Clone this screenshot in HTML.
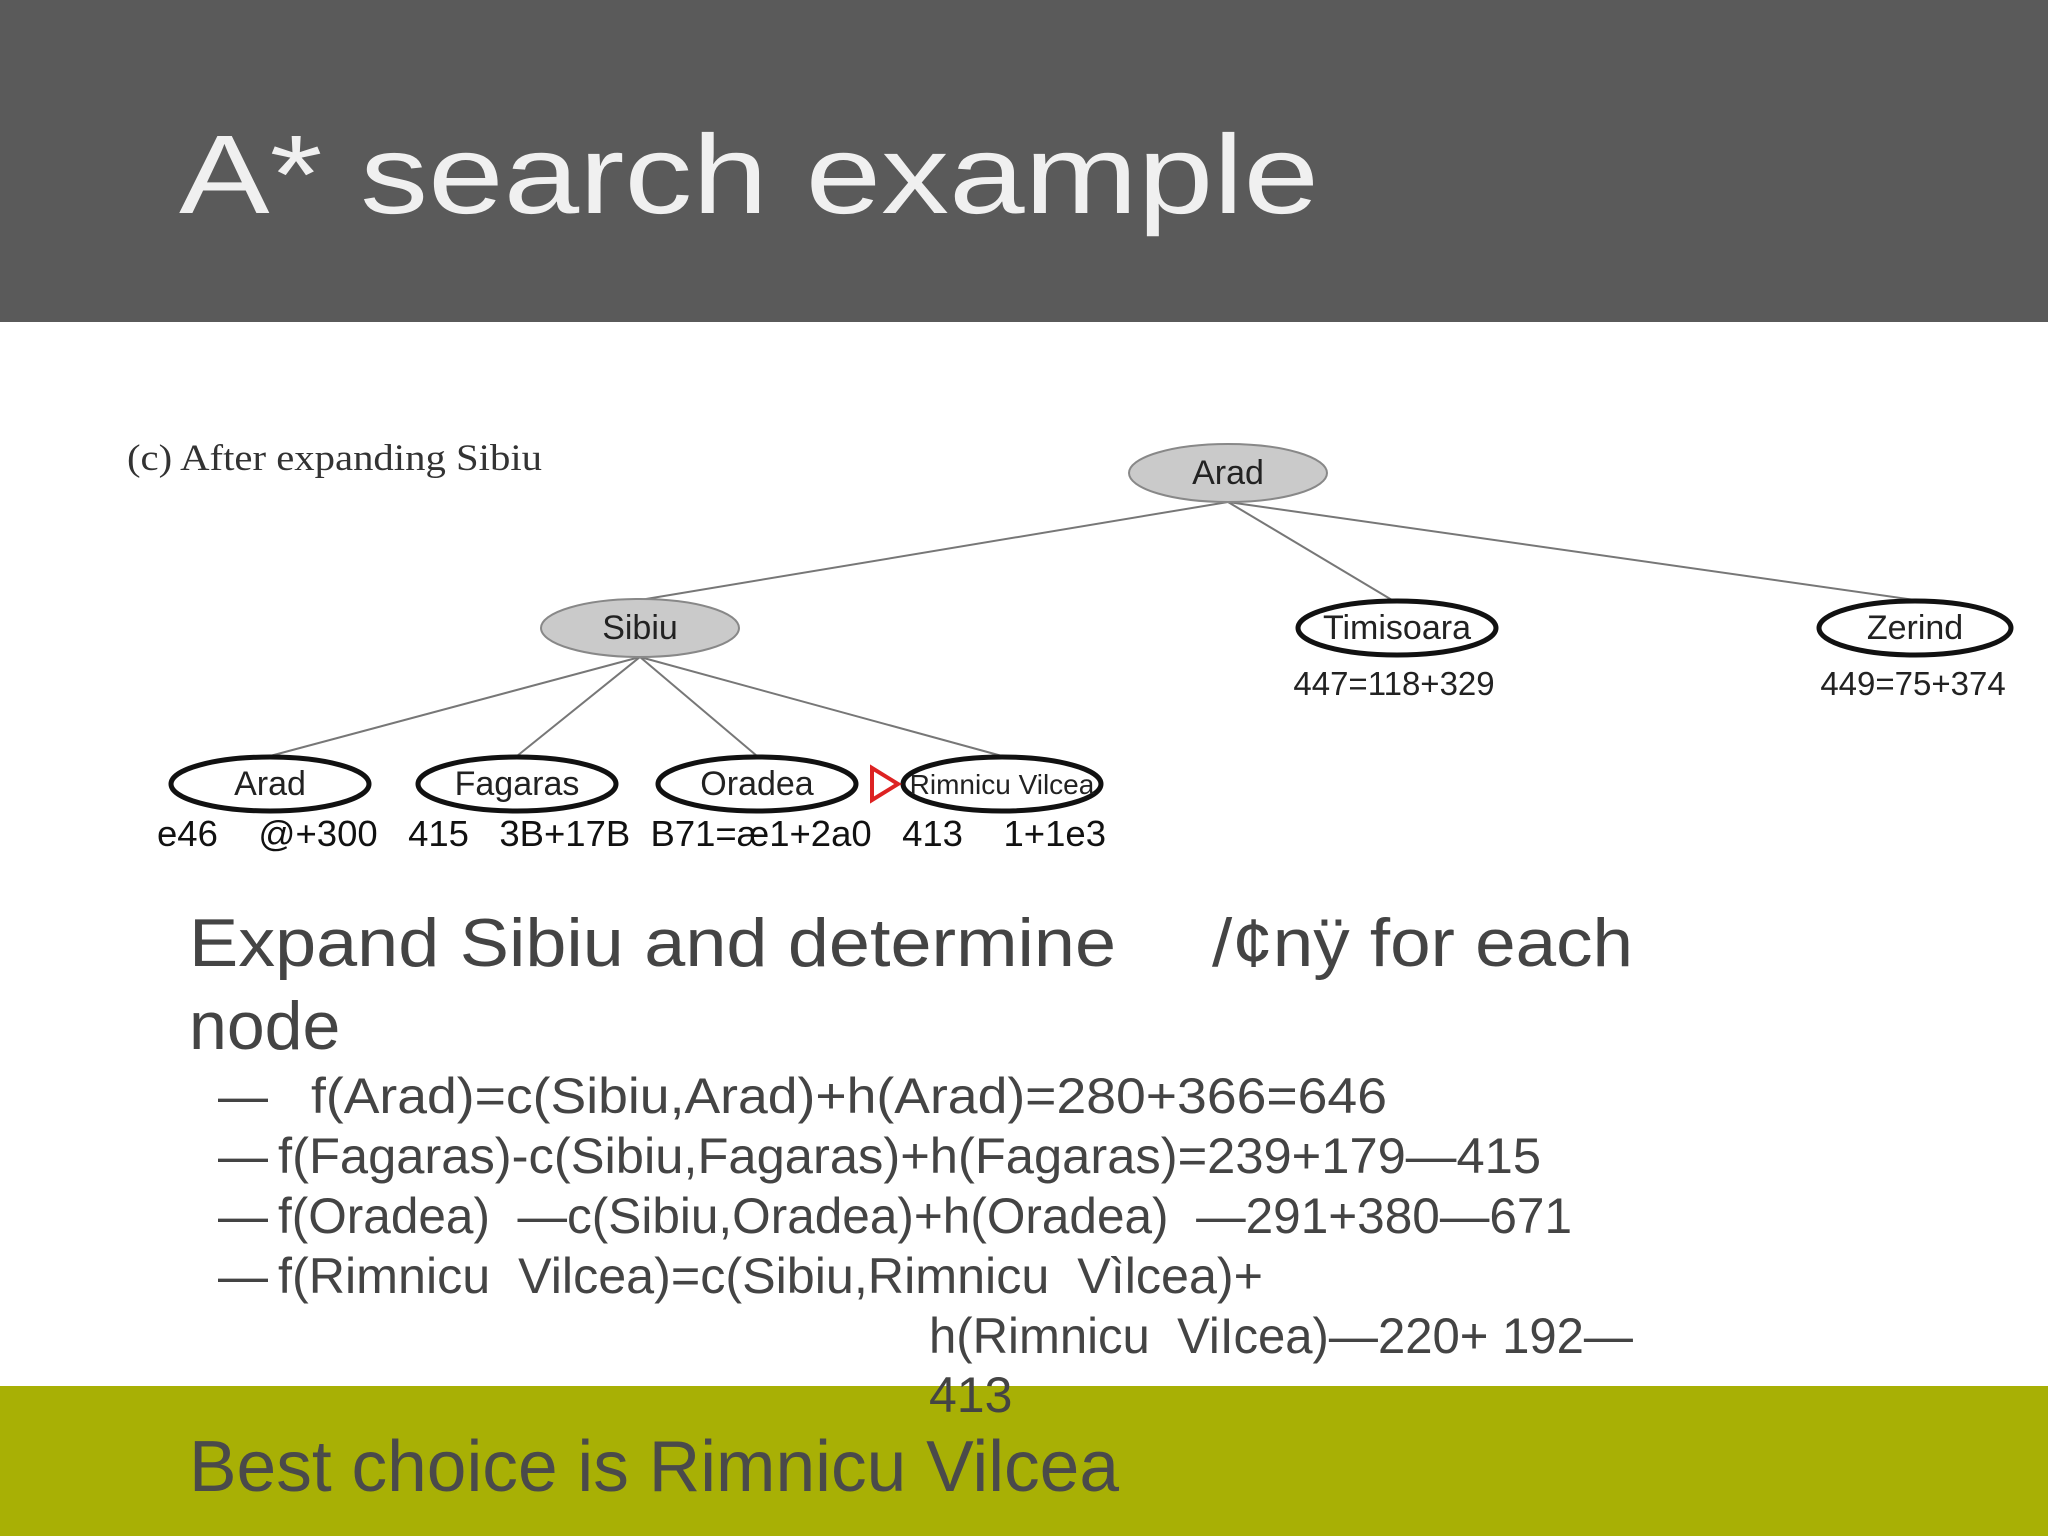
<!DOCTYPE html>
<html><head><meta charset="utf-8"><style>
html,body{margin:0;padding:0;width:2048px;height:1536px;overflow:hidden;background:#fff}
svg{display:block}
</style></head><body>
<svg width="2048" height="1536" viewBox="0 0 2048 1536" xmlns="http://www.w3.org/2000/svg">
<rect x="0" y="0" width="2048" height="322" fill="#5a5a5a"/>
<text x="179" y="213" font-family="Liberation Sans, sans-serif" font-size="112" fill="#f0f0f0" textLength="1140" lengthAdjust="spacingAndGlyphs">A* search example</text>
<rect x="0" y="1386" width="2048" height="150" fill="#a8b005"/>

<text x="127" y="470" font-family="Liberation Serif, serif" font-size="37" fill="#333" textLength="415" lengthAdjust="spacingAndGlyphs">(c) After expanding Sibiu</text>

<g stroke="#777" stroke-width="2">
<line x1="1228" y1="502" x2="640" y2="600"/>
<line x1="1228" y1="502" x2="1392" y2="600"/>
<line x1="1228" y1="502" x2="1915" y2="600"/>
<line x1="640" y1="657" x2="270" y2="756"/>
<line x1="640" y1="657" x2="517" y2="756"/>
<line x1="640" y1="657" x2="757" y2="756"/>
<line x1="640" y1="657" x2="1002" y2="756"/>
</g>
<g font-family="Liberation Sans, sans-serif" font-size="34" text-anchor="middle" fill="#222">
<ellipse cx="1228" cy="473" rx="99" ry="29" fill="#cacaca" stroke="#888" stroke-width="2"/>
<text x="1228" y="484">Arad</text>
<ellipse cx="640" cy="628" rx="99" ry="29" fill="#cacaca" stroke="#888" stroke-width="2"/>
<text x="640" y="639">Sibiu</text>
<ellipse cx="1397" cy="628" rx="99" ry="27" fill="#fff" stroke="#111" stroke-width="5"/>
<text x="1397" y="639">Timisoara</text>
<ellipse cx="1915" cy="628" rx="96" ry="27" fill="#fff" stroke="#111" stroke-width="5"/>
<text x="1915" y="639">Zerind</text>
<ellipse cx="270" cy="784" rx="99" ry="27" fill="#fff" stroke="#111" stroke-width="5"/>
<text x="270" y="795">Arad</text>
<ellipse cx="517" cy="784" rx="99" ry="27" fill="#fff" stroke="#111" stroke-width="5"/>
<text x="517" y="795">Fagaras</text>
<ellipse cx="757" cy="784" rx="99" ry="27" fill="#fff" stroke="#111" stroke-width="5"/>
<text x="757" y="795">Oradea</text>
<ellipse cx="1002" cy="784" rx="99" ry="27" fill="#fff" stroke="#111" stroke-width="5"/>
<text x="1002" y="794" font-size="28">Rimnicu Vilcea</text>
<text x="1394" y="695" font-size="33">447=118+329</text>
<text x="1913" y="695" font-size="33">449=75+374</text>
</g>
<polygon points="872,768 872,800 898,784" fill="#fff" stroke="#d22" stroke-width="4"/>
<text x="157" y="846" font-family="Liberation Sans, sans-serif" font-size="36" fill="#111" xml:space="preserve" textLength="949" lengthAdjust="spacingAndGlyphs">e46    @+300   415   3B+17B  B71=æ1+2a0   413    1+1e3</text>

<g font-family="Liberation Sans, sans-serif" fill="#444">
<text x="189" y="966" font-size="68" textLength="927" lengthAdjust="spacingAndGlyphs">Expand Sibiu and determine</text>
<text x="1212" y="966" font-size="68" textLength="421" lengthAdjust="spacingAndGlyphs">/¢nÿ for each</text>
<text x="189" y="1049" font-size="68">node</text>
<g font-size="50">
<text x="218" y="1113">—</text><text x="311" y="1113" textLength="1076" lengthAdjust="spacingAndGlyphs">f(Arad)=c(Sibiu,Arad)+h(Arad)=280+366=646</text>
<text x="218" y="1173">—</text><text x="278" y="1173" textLength="1263" lengthAdjust="spacingAndGlyphs">f(Fagaras)-c(Sibiu,Fagaras)+h(Fagaras)=239+179—415</text>
<text x="218" y="1233">—</text><text x="278" y="1233" xml:space="preserve" textLength="1294" lengthAdjust="spacingAndGlyphs">f(Oradea)  —c(Sibiu,Oradea)+h(Oradea)  —291+380—671</text>
<text x="218" y="1293">—</text><text x="278" y="1293" xml:space="preserve" textLength="985" lengthAdjust="spacingAndGlyphs">f(Rimnicu  Vilcea)=c(Sibiu,Rimnicu  Vìlcea)+</text>
<text x="929" y="1353" xml:space="preserve" textLength="704" lengthAdjust="spacingAndGlyphs">h(Rimnicu  ViIcea)—220+ 192—</text>
<text x="929" y="1412">413</text>
</g>
<text x="189" y="1491" font-size="72" fill="#4a4a4a" textLength="930" lengthAdjust="spacingAndGlyphs">Best choice is Rimnicu Vilcea</text>
</g>
</svg>
</body></html>
